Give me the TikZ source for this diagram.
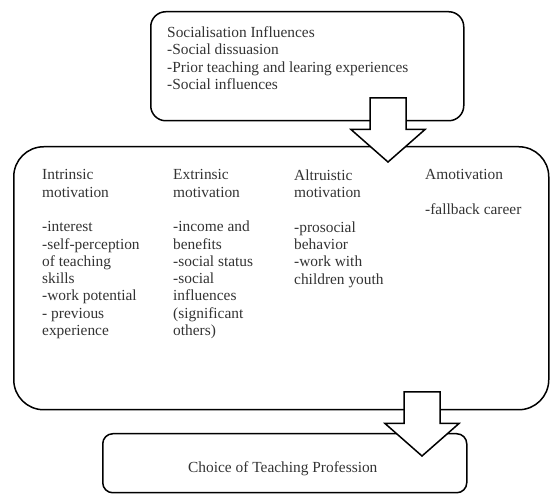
\documentclass[tikz,border=0pt]{standalone}
\usepackage{fontspec}
\setmainfont{Liberation Serif}
\usetikzlibrary{calc}
\tikzset{
  box/.style={draw,line width=1.5pt,rounded corners=#1,anchor=north west,inner sep=0pt},
  txt/.style={anchor=north west,align=left,inner sep=0pt,text=black!80,
    font=\fontsize{15.4}{17.3}\selectfont},
  blockarrow/.style={draw,fill=white,line width=1.5pt,line join=miter}
}
% #1 top of the shaft, #2 tip of the head
\newcommand{\bigdownarrow}[2]{%
  \filldraw[blockarrow] ($(#1)+(-18,0)$) -- ($(#1)+(18,0)$) -- ($(#2)+(18,-32.5)$)
    -- ($(#2)+(37,-32.5)$) -- (#2) -- ($(#2)+(-37,-32.5)$) -- ($(#2)+(-18,-32.5)$) -- cycle;}
\begin{document}
\begin{tikzpicture}[x=1pt,y=-1pt]
\useasboundingbox (0,0) rectangle (550,494);
\node[box=15pt,minimum width=313pt,minimum height=109pt] (soc) at (150,11) {};
\node[box=30pt,minimum width=535pt,minimum height=263pt] (motiv) at (13,146) {};
\node[box=10pt,minimum width=364pt,minimum height=59pt] (choice) at (102,433) {};
%
\node[txt] (soctext) at (167,26.5) {Socialisation Influences\\-Social dissuasion\\-Prior teaching and learing experiences\\-Social influences};
\node[txt] (intr) at (42,169.5) {Intrinsic\\motivation\\[17.3pt]-interest\\-self-perception\\of teaching\\skills\\-work potential\\- previous\\experience};
\node[txt] (extr) at (173,169.5) {Extrinsic\\motivation\\[17.3pt]-income and\\benefits\\-social status\\-social\\influences\\(significant\\others)};
\node[txt] (altr) at (294,169.5) {Altruistic\\motivation\\[17.3pt]-prosocial\\behavior\\-work with\\children youth};
\node[txt] (amot) at (425,169.5) {Amotivation\\[17.3pt]-fallback career};
\node[txt] (choicetext) at (188,461.5) {Choice of Teaching Profession};
%
\coordinate (a1top) at (388,98);
\coordinate (a1tip) at (388,162);
\coordinate (a2top) at (422,392);
\coordinate (a2tip) at (422,456);
\bigdownarrow{a1top}{a1tip}
\bigdownarrow{a2top}{a2tip}
\end{tikzpicture}
\end{document}
